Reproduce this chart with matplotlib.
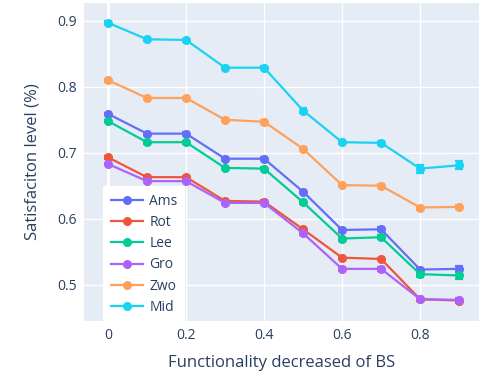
import matplotlib.pyplot as plt

# Functionality decreased of BS
levels = [0, 0.1, 0.2, 0.3, 0.4, 0.5, 0.6, 0.7, 0.8, 0.9]

ams = [0.759, 0.729, 0.729, 0.691, 0.691, 0.641, 0.583, 0.584, 0.523, 0.524]
rot = [0.693, 0.663, 0.663, 0.627, 0.626, 0.584, 0.541, 0.539, 0.478, 0.476]
lee = [0.748, 0.716, 0.716, 0.677, 0.676, 0.625, 0.570, 0.572, 0.516, 0.514]
gro = [0.683, 0.657, 0.657, 0.624, 0.624, 0.578, 0.524, 0.524, 0.478, 0.477]
zwo = [0.810, 0.783, 0.783, 0.750, 0.747, 0.706, 0.651, 0.650, 0.617, 0.618]
mid = [0.897, 0.872, 0.871, 0.829, 0.829, 0.764, 0.716, 0.715, 0.676, 0.681]

# small error bars (estimated)
ams_err = [0.002, 0.002, 0.002, 0.002, 0.002, 0.002, 0.003, 0.003, 0.003, 0.004]
rot_err = [0.002, 0.002, 0.002, 0.002, 0.002, 0.002, 0.002, 0.002, 0.002, 0.003]
lee_err = [0.002, 0.002, 0.002, 0.002, 0.002, 0.003, 0.003, 0.003, 0.004, 0.005]
gro_err = [0.002, 0.002, 0.002, 0.002, 0.002, 0.003, 0.003, 0.003, 0.003, 0.003]
zwo_err = [0.002, 0.002, 0.002, 0.002, 0.002, 0.002, 0.002, 0.002, 0.003, 0.003]
mid_err = [0.002, 0.002, 0.002, 0.002, 0.002, 0.004, 0.003, 0.003, 0.006, 0.006]

series = [
    ("Ams", ams, ams_err, "#636EFA"),
    ("Rot", rot, rot_err, "#EF553B"),
    ("Lee", lee, lee_err, "#00CC96"),
    ("Gro", gro, gro_err, "#AB63FA"),
    ("Zwo", zwo, zwo_err, "#FFA15A"),
    ("Mid", mid, mid_err, "#19D3F3"),
]

plt.rcParams['font.family'] = ['Open Sans', 'DejaVu Sans']
text_color = "#2a3f5f"

fig = plt.figure(figsize=(4.79, 3.74), dpi=100)
ax = fig.add_axes([84 / 479, 1 - 321 / 374, 395 / 479, 318 / 374])
ax.set_facecolor("#E5ECF6")

for name, vals, err, color in series:
    ax.errorbar(levels, vals, yerr=err, color=color, marker="o", markersize=5.5,
                linewidth=1.6, elinewidth=1.6, capsize=3, capthick=1.6, label=name, zorder=3)

ax.set_xlim(-0.0615, 0.951)
ax.set_ylim(0.445, 0.927)
ax.set_xticks([0, 0.2, 0.4, 0.6, 0.8])
ax.set_xticklabels(["0", "0.2", "0.4", "0.6", "0.8"])
ax.set_yticks([0.5, 0.6, 0.7, 0.8, 0.9])
ax.grid(color="white", linewidth=1)
ax.axvline(0, color="white", linewidth=2, zorder=1)
ax.set_axisbelow(True)
for s in ax.spines.values():
    s.set_visible(False)
ax.tick_params(length=0, labelsize=10, labelcolor=text_color, pad=5)

ax.set_xlabel("Functionality decreased of BS", fontsize=12, color=text_color, labelpad=9)
ax.set_ylabel("Satisfaciton level (%)", fontsize=12, color=text_color, labelpad=12)

handles = [plt.Line2D([], [], color=c, marker="o", markersize=5.5, linewidth=1.6) for _, _, _, c in series]
leg = ax.legend(handles, [s[0] for s in series], loc="lower left", bbox_to_anchor=(0.048, -0.005),
                frameon=True, fancybox=False, framealpha=1, edgecolor="white",
                fontsize=10, labelcolor=text_color, handlelength=2.3, borderpad=0.55,
                labelspacing=0.45, handletextpad=0.5, borderaxespad=0)
leg.get_frame().set_linewidth(0)

fig.savefig("out.png", dpi=100)
